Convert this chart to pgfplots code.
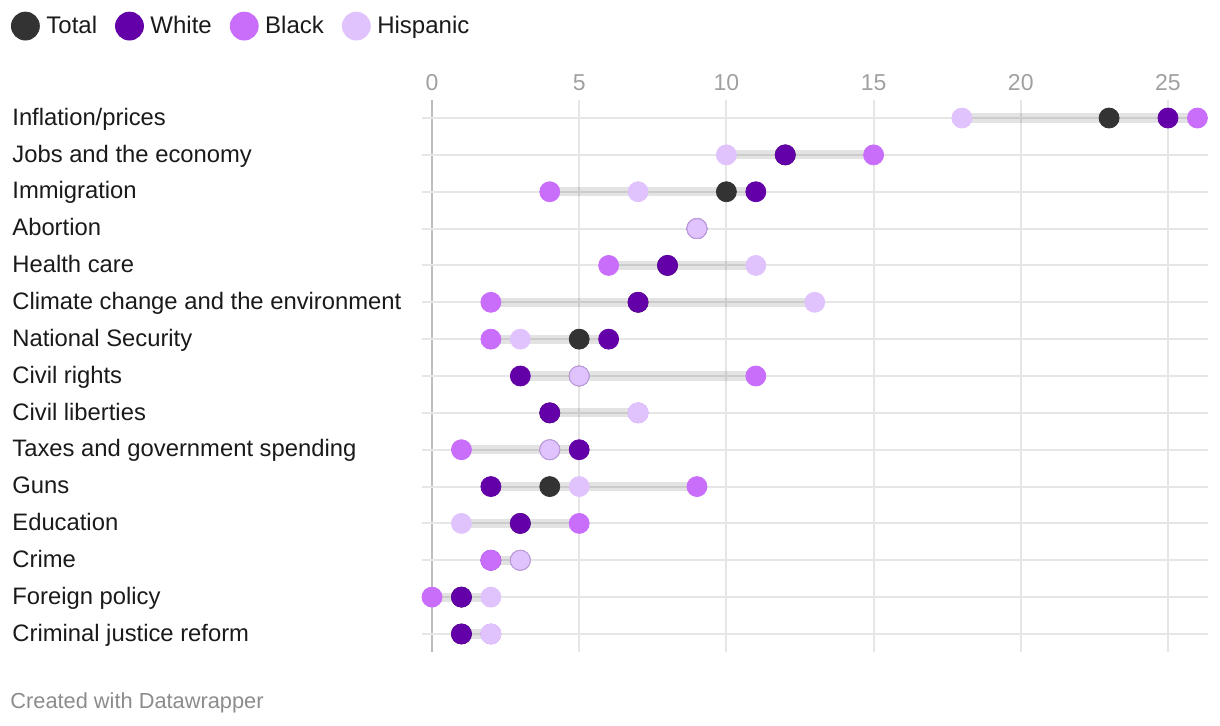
\documentclass[border=0pt]{standalone}
\usepackage{pgfplots}
\pgfplotsset{compat=1.18}
\usepackage{fontspec}
\setmainfont{Liberation Sans}
\definecolor{cTotal}{HTML}{333333}
\definecolor{cWhite}{HTML}{6400A8}
\definecolor{cBlack}{HTML}{C96DFB}
\definecolor{cHisp}{HTML}{E0C3FD}
\definecolor{cHispEdge}{HTML}{B896DA}
\definecolor{cGrid}{HTML}{E6E6E6}
\definecolor{cZero}{HTML}{BDBDBD}
\definecolor{cLabel}{HTML}{1A1A1A}
\definecolor{cTick}{HTML}{A0A0A0}
\definecolor{cFoot}{HTML}{8C8C8C}
\begin{document}
\begin{tikzpicture}
\path[use as bounding box] (0pt,0pt) rectangle (610pt,-363pt);
\begin{axis}[
  at={(211pt,-326.2pt)}, anchor=south west,
  scale only axis, width=393pt, height=276.4pt,
  xmin=-0.34, xmax=26.36, ymin=0.5, ymax=15.5, y dir=reverse,
  axis line style={draw=none},
  xtick={5,10,15,20,25}, extra x ticks={0},
  extra x tick style={grid style={cZero, line width=1pt}},
  xticklabel pos=upper,
  xmajorgrids, grid style={cGrid, line width=1pt},
  major tick length=0pt,
  xticklabel style={font=\fontsize{11.5}{13}\selectfont, text=cTick, yshift=1pt},
  /pgf/number format/assume math mode=true,
  ytick={1,...,15},
  yticklabels={Inflation/prices, Jobs and the economy, Immigration, Abortion, Health care, Climate change and the environment, National Security, Civil rights, Civil liberties, Taxes and government spending, Guns, Education, Crime, Foreign policy, Criminal justice reform},
  yticklabel style={anchor=west, inner sep=0pt, text height=0.72em, text depth=0pt, xshift=-205pt, font=\fontsize{11.9}{14}\selectfont, text=cLabel},
  clip=false,
  legend style={at={(axis description cs:-0.5229,1.133)}, anchor=west, draw=none, fill=none,
    legend columns=4, font=\fontsize{12}{14}\selectfont, text=cLabel,
    /tikz/every even column/.append style={column sep=7.5pt},
    inner sep=0pt, outer sep=0pt, nodes={inner sep=1.5pt, text height=0.72em, text depth=0pt}},
  legend cell align=left,
  legend image code/.code={\path[draw=none, fill=none] (0pt,-1pt) rectangle (16pt,1pt); \fill[#1] (7pt,0pt) circle (7pt);},
]
% horizontal row gridlines
\addplot[cGrid, line width=1pt, unbounded coords=jump, forget plot] coordinates {
(-0.34,1) (26.36,1) (nan,nan) (-0.34,2) (26.36,2) (nan,nan) (-0.34,3) (26.36,3) (nan,nan)
(-0.34,4) (26.36,4) (nan,nan) (-0.34,5) (26.36,5) (nan,nan) (-0.34,6) (26.36,6) (nan,nan)
(-0.34,7) (26.36,7) (nan,nan) (-0.34,8) (26.36,8) (nan,nan) (-0.34,9) (26.36,9) (nan,nan)
(-0.34,10) (26.36,10) (nan,nan) (-0.34,11) (26.36,11) (nan,nan) (-0.34,12) (26.36,12) (nan,nan)
(-0.34,13) (26.36,13) (nan,nan) (-0.34,14) (26.36,14) (nan,nan) (-0.34,15) (26.36,15)};
% range bars
\addplot[black, opacity=0.11, line width=4.6pt, unbounded coords=jump, forget plot] coordinates {
(18,1) (26,1) (nan,nan) (10,2) (15,2) (nan,nan) (4,3) (11,3) (nan,nan)
(9,4) (9,4) (nan,nan) (6,5) (11,5) (nan,nan) (2,6) (13,6) (nan,nan)
(2,7) (6,7) (nan,nan) (3,8) (11,8) (nan,nan) (4,9) (7,9) (nan,nan)
(1,10) (5,10) (nan,nan) (2,11) (9,11) (nan,nan) (1,12) (5,12) (nan,nan)
(2,13) (3,13) (nan,nan) (0,14) (2,14) (nan,nan) (1,15) (2,15)};
% Total
\addplot[only marks, color=cTotal, mark=*, mark size=5pt, mark options={draw=none, fill=cTotal}] coordinates {
(23,1) (12,2) (10,3) (9,4) (8,5) (7,6) (5,7) (5,8) (4,9) (4,10) (4,11) (3,12) (3,13) (1,14) (1,15)};
\addlegendentry{Total}
% White
\addplot[only marks, color=cWhite, mark=*, mark size=5pt, mark options={draw=none, fill=cWhite}] coordinates {
(25,1) (12,2) (11,3) (9,4) (8,5) (7,6) (6,7) (3,8) (4,9) (5,10) (2,11) (3,12) (2,13) (1,14) (1,15)};
\addlegendentry{White}
% Black
\addplot[only marks, color=cBlack, mark=*, mark size=5pt, mark options={draw=none, fill=cBlack}] coordinates {
(26,1) (15,2) (4,3) (9,4) (6,5) (2,6) (2,7) (11,8) (7,9) (1,10) (9,11) (5,12) (2,13) (0,14) (2,15)};
\addlegendentry{Black}
% Hispanic
\addplot[only marks, color=cHisp, mark=*, mark size=5pt, mark options={draw=none, fill=cHisp}] coordinates {
(18,1) (10,2) (7,3) (9,4) (11,5) (13,6) (3,7) (5,8) (7,9) (4,10) (5,11) (1,12) (3,13) (2,14) (2,15)};
\addlegendentry{Hispanic}
% Hispanic points overlapping others get a thin outline
\addplot[only marks, forget plot, mark=*, mark size=5pt, mark options={draw=cHispEdge, line width=0.4pt, fill=cHisp}] coordinates {
(9,4) (5,8) (4,10) (3,13)};
\end{axis}
\node[anchor=base west, inner sep=0pt, text=cFoot, font=\fontsize{10.9}{13}\selectfont] at (5pt,-354pt) {Created with Datawrapper};
\end{tikzpicture}
\end{document}
